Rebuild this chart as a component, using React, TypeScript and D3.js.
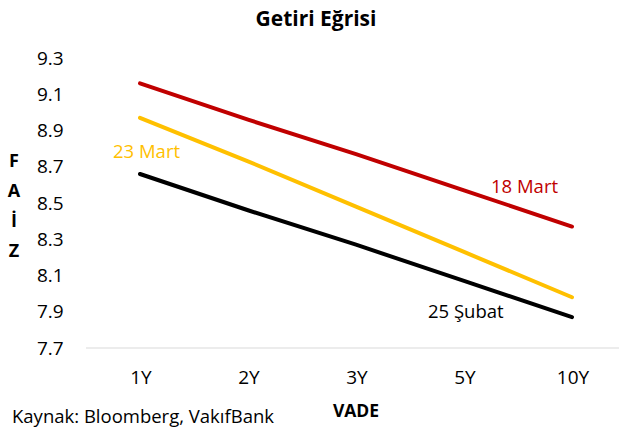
import React, { useEffect, useRef } from "react";
import * as d3 from "d3";

const categories = ["1Y", "2Y", "3Y", "5Y", "10Y"];
const yTicks = [7.7, 7.9, 8.1, 8.3, 8.5, 8.7, 8.9, 9.1, 9.3];

const mart18 = [9.16, 8.96, 8.77, 8.57, 8.37];
const mart23 = [8.97, 8.73, 8.48, 8.23, 7.98];
const subat25 = [8.66, 8.46, 8.27, 8.07, 7.87];

const series = [
  { name: "18 Mart", values: mart18, color: "#C00000" },
  { name: "23 Mart", values: mart23, color: "#FFC000" },
  { name: "25 Şubat", values: subat25, color: "#000000" }
];

const font = "'Open Sans', sans-serif";

export default function App() {
  const ref = useRef<SVGSVGElement | null>(null);

  useEffect(() => {
    const w = 619;
    const h = 432;
    const svg = d3.select(ref.current);
    svg.selectAll("*").remove();

    const xScale = d3.scalePoint().domain(categories).range([140, 572]);
    const yScale = d3.scaleLinear().domain([7.7, 9.3]).range([348, 58]);

    svg
      .append("rect")
      .attr("width", w)
      .attr("height", h)
      .attr("fill", "#fff");

    // title
    svg
      .append("text")
      .attr("x", 316)
      .attr("y", 26)
      .attr("text-anchor", "middle")
      .attr("font-family", font)
      .attr("font-weight", "bold")
      .attr("font-size", 21)
      .text("Getiri Eğrisi");

    // y tick labels
    svg
      .selectAll("text.ytick")
      .data(yTicks)
      .enter()
      .append("text")
      .attr("class", "ytick")
      .attr("x", 37)
      .attr("y", d => yScale(d))
      .attr("dy", "0.35em")
      .attr("font-family", font)
      .attr("font-size", 19)
      .text(d => d.toFixed(1));

    // bottom axis line
    svg
      .append("line")
      .attr("x1", 86)
      .attr("x2", 626)
      .attr("y1", yScale(7.7))
      .attr("y2", yScale(7.7))
      .attr("stroke", "#d9d9d9")
      .attr("stroke-width", 1);

    // x tick labels
    svg
      .selectAll("text.xtick")
      .data(categories)
      .enter()
      .append("text")
      .attr("class", "xtick")
      .attr("x", d => (xScale(d) as number) + 1)
      .attr("y", 377)
      .attr("dy", "0.35em")
      .attr("text-anchor", "middle")
      .attr("font-family", font)
      .attr("font-size", 19)
      .text(d => d);

    // lines
    const line = d3
      .line<number>()
      .x((d, i) => xScale(categories[i]) as number)
      .y(d => yScale(d));

    svg
      .selectAll("path.series")
      .data(series)
      .enter()
      .append("path")
      .attr("class", "series")
      .attr("d", d => line(d.values))
      .attr("fill", "none")
      .attr("stroke", d => d.color)
      .attr("stroke-width", 4)
      .attr("stroke-linecap", "round");

    // series labels
    const labelPos = [
      { x: 491, y: 193 },
      { x: 113, y: 158 },
      { x: 428, y: 318 }
    ];
    series.forEach((s, i) => {
      svg
        .append("text")
        .attr("x", labelPos[i].x)
        .attr("y", labelPos[i].y)
        .attr("font-family", font)
        .attr("font-size", 18.5)
        .attr("fill", s.color)
        .text(s.name);
    });

    // y axis title, stacked letters
    const yTitle = ["F", "A", "İ", "Z"];
    svg
      .selectAll("text.ytitle")
      .data(yTitle)
      .enter()
      .append("text")
      .attr("class", "ytitle")
      .attr("x", 14)
      .attr("y", (d, i) => 167 + i * 30)
      .attr("text-anchor", "middle")
      .attr("font-family", font)
      .attr("font-weight", "bold")
      .attr("font-size", 18)
      .text(d => d);

    // x axis title
    svg
      .append("text")
      .attr("x", 356)
      .attr("y", 417)
      .attr("text-anchor", "middle")
      .attr("font-family", font)
      .attr("font-weight", "bold")
      .attr("font-size", 17.5)
      .text("VADE");

    // source
    svg
      .append("text")
      .attr("x", 12)
      .attr("y", 423)
      .attr("font-family", font)
      .attr("font-size", 18.5)
      .text("Kaynak: Bloomberg, VakıfBank");
  }, []);

  return (
    <svg
      ref={ref}
      width={619}
      height={432}
      style={{ position: "absolute", left: 0, top: 0 }}
    />
  );
}
